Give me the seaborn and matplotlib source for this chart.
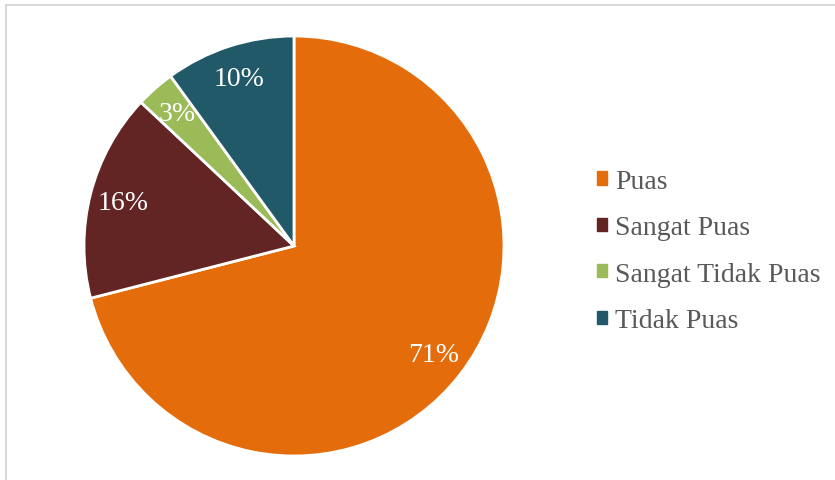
import matplotlib.pyplot as plt
import matplotlib.patches as mpatches
import seaborn as sns

labels = ["Puas", "Sangat Puas", "Sangat Tidak Puas", "Tidak Puas"]
values = [71, 16, 3, 10]
colors = ["#E46C0A", "#632523", "#9BBB59", "#215968"]

sns.set_theme(style="white")
plt.rcParams["font.family"] = ["Liberation Serif", "DejaVu Serif"]

W, H = 835, 481
fig = plt.figure(figsize=(W / 100, H / 100), dpi=100)

# light grey frame, cut off at right and bottom like the screenshot
fig.patches.append(mpatches.Rectangle((6 / W, -0.2), 1.2, 475 / H + 0.2,
                                      transform=fig.transFigure, fill=False,
                                      edgecolor="#d9d9d9", linewidth=1.5))

# pie centre at (294, 247) px, radius 210 px
ax = fig.add_axes([84 / W, 24 / H, 420 / W, 420 / H])
wedges, texts, autotexts = ax.pie(
    values, colors=colors, startangle=90, counterclock=False,
    autopct="%1.0f%%", pctdistance=0.84, radius=1,
    wedgeprops=dict(edgecolor="white", linewidth=2),
    textprops=dict(color="white", fontsize=20))
ax.set_xlim(-1, 1)
ax.set_ylim(-1, 1)
ax.set_aspect("equal")
ax.axis("off")

handles = [mpatches.Patch(color=c, label=l) for c, l in zip(colors, labels)]
fig.legend(handles=handles, loc="upper left", bbox_to_anchor=(597 / W, 1 - 170 / H),
           frameon=False, fontsize=20, labelcolor="#595959",
           handlelength=0.35, handleheight=0.35, handletextpad=0.3,
           labelspacing=0.77, borderpad=0, borderaxespad=0)

fig.savefig("out.png", dpi=100)
